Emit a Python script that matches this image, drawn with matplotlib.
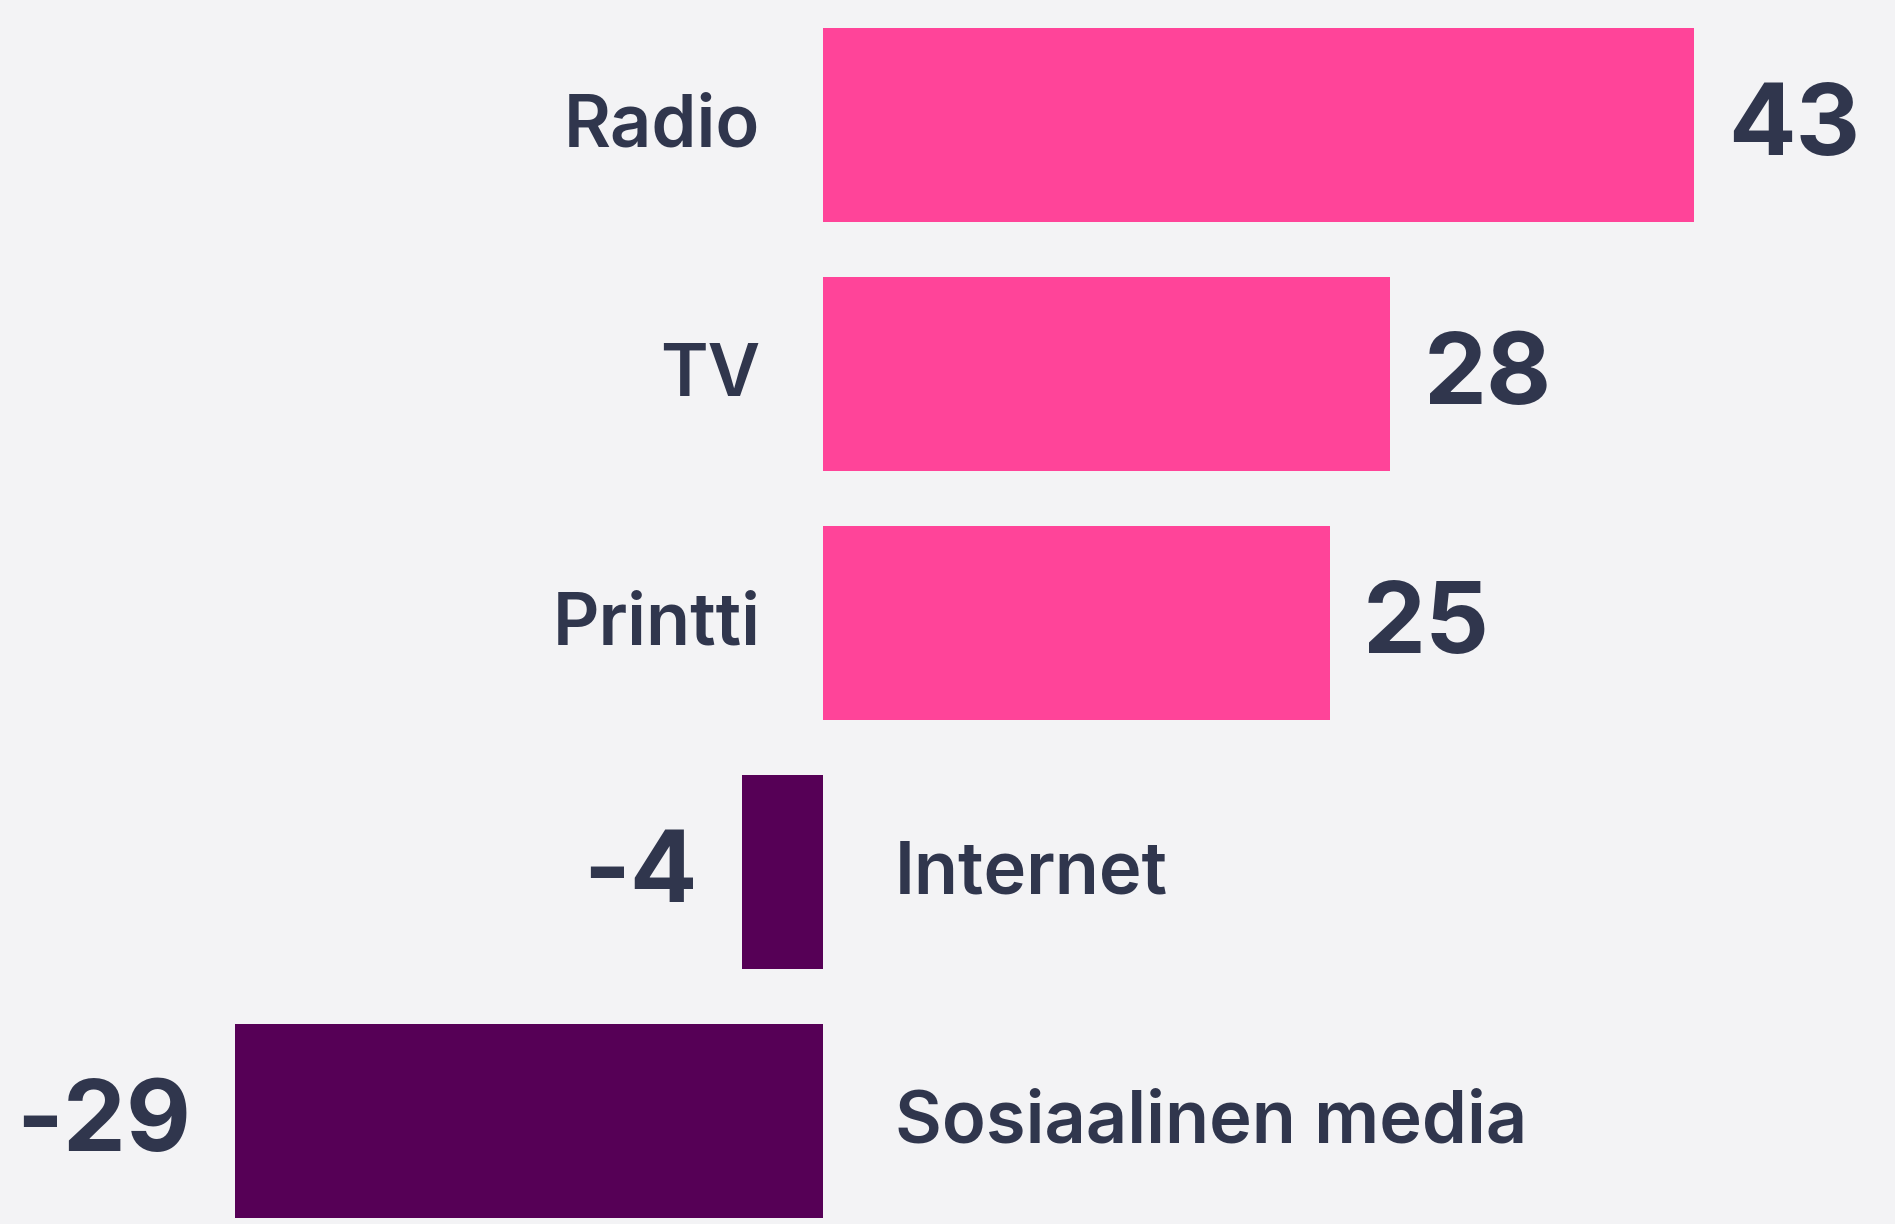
import numpy as np
import matplotlib.pyplot as plt

media = ['Radio', 'TV', 'Printti', 'Internet', 'Sosiaalinen media']
values = [43, 28, 25, -4, -29]

bg = '#f3f3f5'
txt = '#30364d'
pink = '#ff4499'
purple = '#560056'

fig = plt.figure(figsize=(18.95, 12.24), dpi=100, facecolor=bg)
ax = fig.add_axes([0, 0, 1, 1], facecolor=bg)

y = np.arange(len(media))
colors = [pink if v > 0 else purple for v in values]
ax.barh(y, values, height=0.78, color=colors)

for yi, name, v in zip(y, media, values):
    if v > 0:
        ax.annotate(name, (0, yi), xytext=(-45, -2), textcoords='offset points',
                    ha='right', va='center', fontsize=52, color=txt,
                    family='Inter', fontweight='semibold')
        ax.annotate(str(v), (v, yi), xytext=(24, -3), textcoords='offset points',
                    ha='left', va='center', fontsize=72, color=txt,
                    family='Inter', fontweight='bold')
    else:
        ax.annotate(name, (0, yi), xytext=(52, -2), textcoords='offset points',
                    ha='left', va='center', fontsize=52, color=txt,
                    family='Inter', fontweight='semibold')
        ax.annotate(str(v), (v, yi), xytext=(-32, -3), textcoords='offset points',
                    ha='right', va='center', fontsize=72, color=txt,
                    family='Inter', fontweight='bold')

ax.set_xlim(-40.6, 52.9)
ax.set_ylim(4.414, -0.502)
ax.axis('off')

fig.savefig('out.png', dpi=100, facecolor=bg)
